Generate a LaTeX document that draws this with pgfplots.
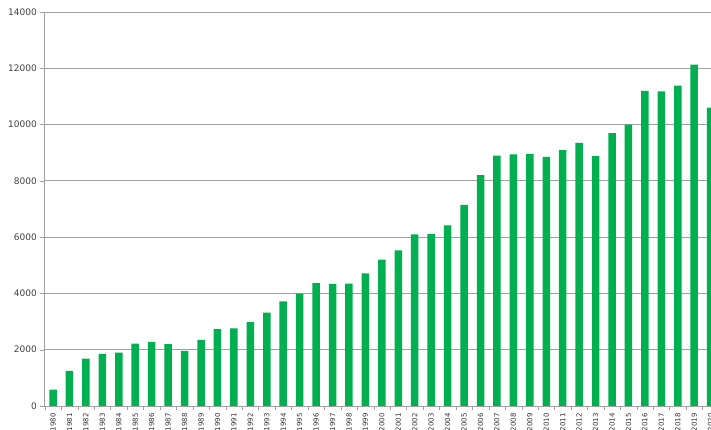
\documentclass[border=0pt]{standalone}
\usepackage{pgfplots}
\pgfplotsset{compat=1.18}
\usepackage{fontspec}
\setmainfont{DejaVu Sans}
\definecolor{bargreen}{RGB}{0,176,80}
\definecolor{gridgray}{RGB}{160,160,160}
\begin{document}
\begin{tikzpicture}
\useasboundingbox (-44pt,-24pt) rectangle (667pt,406pt);
\clip (-44pt,-24pt) rectangle (667pt,406pt);
\begin{axis}[
  at={(0pt,0pt)}, anchor=south west,
  scale only axis,
  width=667pt, height=394pt,
  xmin=-0.55, xmax=40.02,
  ymin=0, ymax=14000,
  axis lines*=left,
  axis line style={draw=gridgray},
  ytick={0,2000,...,14000},
  scaled y ticks=false,
  ymajorgrids,
  grid style={gridgray, line width=0.8pt},
  xtick={0,...,40},
  xticklabels={1980,1981,1982,1983,1984,1985,1986,1987,1988,1989,1990,1991,1992,1993,1994,1995,1996,1997,1998,1999,2000,2001,2002,2003,2004,2005,2006,2007,2008,2009,2010,2011,2012,2013,2014,2015,2016,2017,2018,2019,2020},
  minor xtick={-0.5,0.5,...,40.5},
  major x tick style={draw=none},
  minor x tick style={draw=gridgray},
  ytick style={draw=gridgray},
  tick align=outside,
  major tick length=4pt,
  minor tick length=4pt,
  /pgf/number format/1000 sep={},
  /pgf/number format/assume math mode=true,
  yticklabel style={font=\fontsize{9}{10}\selectfont, text=black!75, inner sep=0pt, xshift=-3pt},
  xticklabel style={font=\fontsize{7}{8}\selectfont, text=black!80, rotate=90, anchor=east, inner sep=0pt},
  xticklabel shift=3pt,
  ybar, bar width=7.5pt,
  clip=true,
]
\addplot[fill=bargreen, draw=none] coordinates {
(0,580) (1,1250) (2,1680) (3,1850) (4,1900) (5,2220) (6,2280) (7,2200) (8,1960) (9,2350)
(10,2730) (11,2760) (12,2980) (13,3320) (14,3720) (15,3990) (16,4370) (17,4340) (18,4350) (19,4710)
(20,5200) (21,5530) (22,6100) (23,6110) (24,6420) (25,7150) (26,8200) (27,8900) (28,8940) (29,8960)
(30,8850) (31,9090) (32,9350) (33,8880) (34,9700) (35,10000) (36,11200) (37,11180) (38,11380) (39,12130)
(40,10600)
};
\end{axis}
\end{tikzpicture}
\end{document}
